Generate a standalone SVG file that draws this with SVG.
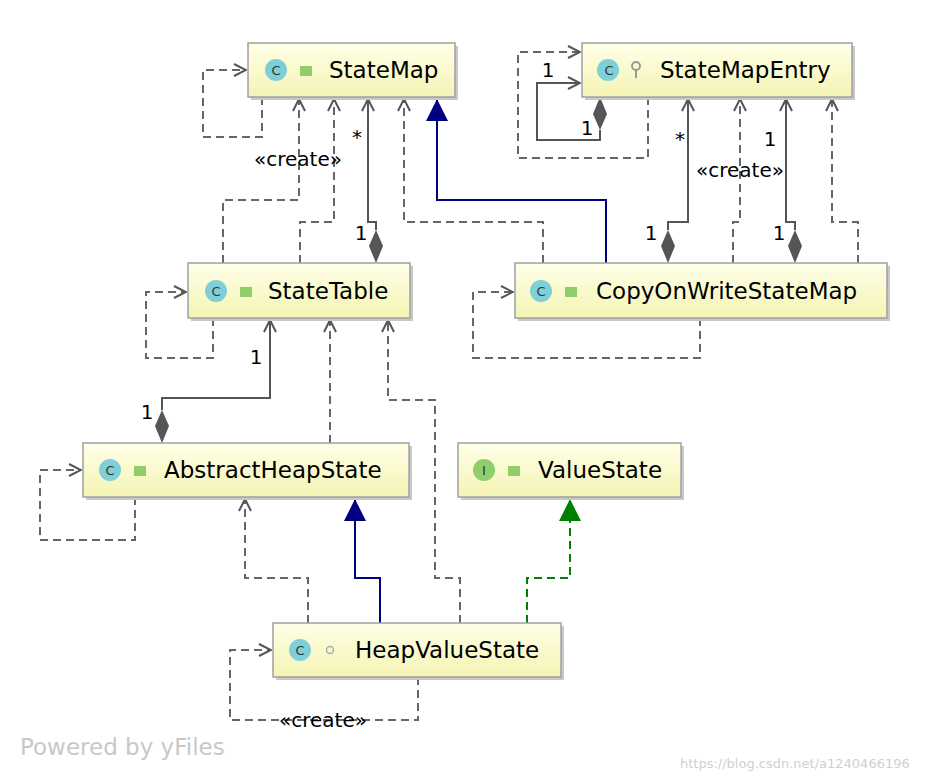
<svg xmlns="http://www.w3.org/2000/svg" width="930" height="780" viewBox="0 0 930 780">
<style>
.box{fill:url(#g);stroke:#a0a0a0;stroke-width:1.5}
.sh{fill:#c8c8c8}
.t{font-family:"DejaVu Sans",sans-serif;font-size:23px;fill:#000}
.l{font-family:"DejaVu Sans",sans-serif;font-size:20px;fill:#000}
.d{fill:none;stroke:#666;stroke-width:2;stroke-dasharray:8,5}
.s{fill:none;stroke:#555;stroke-width:2}
.ic{fill:#7fcfd8}
.ict{font-family:"DejaVu Sans",sans-serif;font-size:13px;fill:#333;text-anchor:middle}
.lk{fill:#8fce6a}
</style>
<defs>
<linearGradient id="g" x1="0" y1="0" x2="0" y2="1"><stop offset="0" stop-color="#ffffe8"/><stop offset="1" stop-color="#f4f4b4"/></linearGradient>
<marker id="oa" markerWidth="14" markerHeight="14" refX="13" refY="7" orient="auto" markerUnits="userSpaceOnUse"><path d="M1,1 L13,7 L1,13" fill="none" stroke="#555" stroke-width="2"/></marker>
<marker id="tb" markerWidth="24" markerHeight="22" refX="22" refY="11" orient="auto" markerUnits="userSpaceOnUse"><path d="M0,0 L22,11 L0,22Z" fill="#000080"/></marker>
<marker id="tg" markerWidth="24" markerHeight="22" refX="22" refY="11" orient="auto" markerUnits="userSpaceOnUse"><path d="M0,0 L22,11 L0,22Z" fill="#008000"/></marker>
</defs>
<g id="connectors">
<path class="d" d="M262,97 V137 H203 V70 H246" marker-end="url(#oa)"/>
<path class="d" d="M223,263 V200 H299 V99" marker-end="url(#oa)"/>
<path class="d" d="M300,263 V222 H334 V99" marker-end="url(#oa)"/>
<path class="s" d="M376,230 V222 H368 V99" marker-end="url(#oa)"/>
<path d="M376,263 L383,246 L376,230 L369,246Z" fill="#555"/>
<path class="d" d="M543,263 V222 H404 V99" marker-end="url(#oa)"/>
<path d="M606,263 V200 H437 V99" fill="none" stroke="#000080" stroke-width="2" marker-end="url(#tb)"/>
<path class="d" d="M648,97 V158 H518 V52 H580" marker-end="url(#oa)"/>
<path class="s" d="M600,130 V140 H537 V83 H580" marker-end="url(#oa)"/>
<path d="M600,97 L607,114 L600,130 L593,114Z" fill="#555"/>
<path class="s" d="M668,230 V222 H688 V99" marker-end="url(#oa)"/>
<path d="M668,263 L675,246 L668,230 L661,246Z" fill="#555"/>
<path class="d" d="M733,263 V222 H740 V99" marker-end="url(#oa)"/>
<path class="s" d="M795,230 V222 H786 V99" marker-end="url(#oa)"/>
<path d="M795,263 L802,246 L795,230 L788,246Z" fill="#555"/>
<path class="d" d="M858,263 V222 H832 V99" marker-end="url(#oa)"/>
<path class="d" d="M700,318 V358 H473 V292 H513" marker-end="url(#oa)"/>
<path class="d" d="M213,318 V358 H146 V292 H186" marker-end="url(#oa)"/>
<path class="s" d="M162,410 V398 H270 V320" marker-end="url(#oa)"/>
<path d="M162,443 L169,426 L162,410 L155,426Z" fill="#555"/>
<path class="d" d="M330,443 V320" marker-end="url(#oa)"/>
<path class="d" d="M135,497 V540 H40 V470 H81" marker-end="url(#oa)"/>
<path class="d" d="M308,623 V578 H245 V499" marker-end="url(#oa)"/>
<path d="M380,623 V578 H355 V499" fill="none" stroke="#000080" stroke-width="2" marker-end="url(#tb)"/>
<path class="d" d="M460,623 V578 H435 V400 H388 V320" marker-end="url(#oa)"/>
<path d="M527,623 V578 H570 V499" fill="none" stroke="#008000" stroke-width="2" stroke-dasharray="8,5" marker-end="url(#tg)"/>
<path class="d" d="M418,677 V720 H230 V650 H271" marker-end="url(#oa)"/>
<text class="l" x="298" y="166" text-anchor="middle">«create»</text>
<text class="l" x="357" y="144" text-anchor="middle">*</text>
<text class="l" x="361" y="240" text-anchor="middle">1</text>
<text class="l" x="548" y="77" text-anchor="middle">1</text>
<text class="l" x="587" y="135" text-anchor="middle">1</text>
<text class="l" x="680" y="146" text-anchor="middle">*</text>
<text class="l" x="740" y="177" text-anchor="middle">«create»</text>
<text class="l" x="770" y="146" text-anchor="middle">1</text>
<text class="l" x="651" y="240" text-anchor="middle">1</text>
<text class="l" x="779" y="240" text-anchor="middle">1</text>
<text class="l" x="256" y="364" text-anchor="middle">1</text>
<text class="l" x="147" y="419" text-anchor="middle">1</text>
<text class="l" x="323" y="727" text-anchor="middle">«create»</text>
</g>
<g id="StateMap"><rect class="sh" x="251" y="46" width="207" height="54"/><rect class="box" x="248" y="43" width="207" height="54"/><circle class="ic" cx="276" cy="70" r="11"/><text class="ict" x="276" y="75">C</text><rect class="lk" x="300" y="66" width="12" height="10"/><text class="t" x="329" y="78">StateMap</text></g>
<g id="StateMapEntry"><rect class="sh" x="585" y="46" width="270" height="54"/><rect class="box" x="582" y="43" width="270" height="54"/><circle class="ic" cx="608" cy="70" r="11"/><text class="ict" x="609" y="75">C</text><circle cx="636" cy="66" r="4" fill="none" stroke="#999" stroke-width="2"/><path d="M636,70 V78" stroke="#999" stroke-width="2"/><text class="t" x="660" y="78">StateMapEntry</text></g>
<g id="StateTable"><rect class="sh" x="191" y="266" width="222" height="55"/><rect class="box" x="188" y="263" width="222" height="55"/><circle class="ic" cx="216" cy="291" r="11"/><text class="ict" x="216" y="296">C</text><rect class="lk" x="240" y="287" width="12" height="10"/><text class="t" x="268" y="299">StateTable</text></g>
<g id="CopyOnWriteStateMap"><rect class="sh" x="518" y="266" width="372" height="55"/><rect class="box" x="515" y="263" width="372" height="55"/><circle class="ic" cx="541" cy="291" r="11"/><text class="ict" x="541" y="296">C</text><rect class="lk" x="565" y="287" width="12" height="10"/><text class="t" x="596" y="299">CopyOnWriteStateMap</text></g>
<g id="AbstractHeapState"><rect class="sh" x="86" y="446" width="326" height="54"/><rect class="box" x="83" y="443" width="326" height="54"/><circle class="ic" cx="110" cy="470" r="11"/><text class="ict" x="110" y="475">C</text><rect class="lk" x="134" y="466" width="12" height="10"/><text class="t" x="164" y="478">AbstractHeapState</text></g>
<g id="ValueState"><rect class="sh" x="461" y="446" width="223" height="54"/><rect class="box" x="458" y="443" width="223" height="54"/><circle cx="484" cy="470" r="11" fill="#8fce6a"/><text class="ict" x="484" y="475">I</text><rect class="lk" x="508" y="466" width="12" height="10"/><text class="t" x="538" y="478">ValueState</text></g>
<g id="HeapValueState"><rect class="sh" x="276" y="626" width="288" height="54"/><rect class="box" x="273" y="623" width="288" height="54"/><circle class="ic" cx="300" cy="650" r="11"/><text class="ict" x="300" y="655">C</text><circle cx="330" cy="650" r="3.5" fill="none" stroke="#aaa" stroke-width="1.5"/><text class="t" x="355" y="658">HeapValueState</text></g>
<text x="20" y="755" font-family="DejaVu Sans,sans-serif" font-size="23" fill="#c8c8c8">Powered by yFiles</text>
<text x="680" y="768" font-family="DejaVu Sans,sans-serif" font-size="13" fill="#d0d0d0">https://blog.csdn.net/a1240466196</text>
</svg>
